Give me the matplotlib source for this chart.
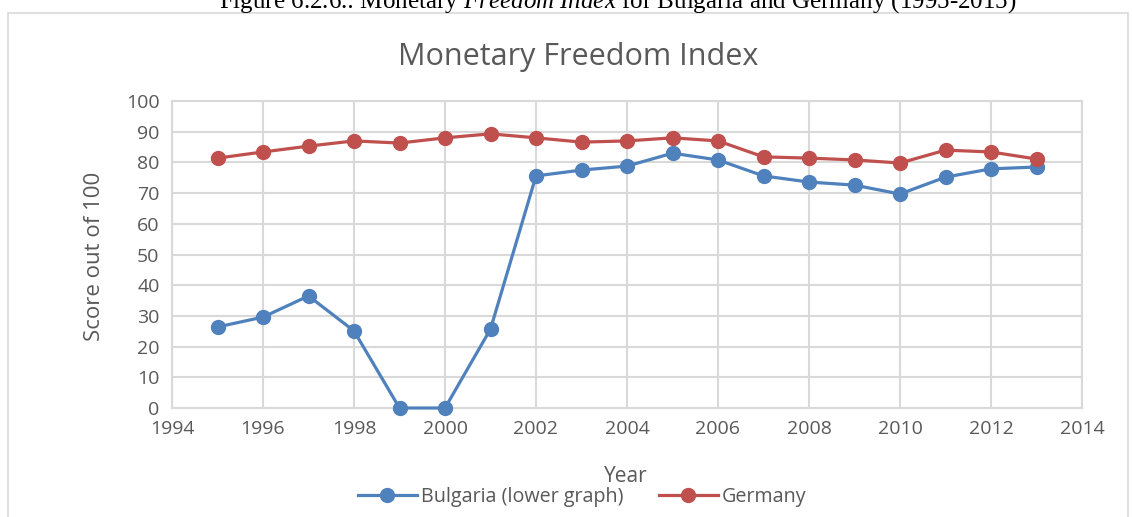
import matplotlib.pyplot as plt
from matplotlib.patches import Rectangle

years = list(range(1995, 2014))
bulgaria = [26.4, 29.6, 36.5, 25.1, 0, 0, 25.7, 75.6, 77.5, 78.8, 83.0,
            80.8, 75.6, 73.6, 72.6, 69.7, 75.2, 77.9, 78.5]
germany = [81.4, 83.4, 85.3, 87.0, 86.3, 88.0, 89.3, 88.0, 86.6, 87.0, 88.0,
           87.0, 81.8, 81.4, 80.8, 79.8, 84.0, 83.4, 81.1]

x_ticks = list(range(1994, 2015, 2))
y_ticks = list(range(0, 101, 10))

txt = '#595959'
grid_c = '#d9d9d9'
plt.rcParams['font.family'] = ['Open Sans', 'DejaVu Sans']
plt.rcParams['mathtext.fontset'] = 'custom'
plt.rcParams['mathtext.rm'] = 'Liberation Serif'
plt.rcParams['mathtext.it'] = 'Liberation Serif:italic'

fig = plt.figure(figsize=(11.32, 5.17), dpi=100)
W, H = 1132, 517

# outer chart frame
fig.patches.append(Rectangle((8 / W, -0.1), (1128 - 8) / W, 1.1 - 13 / H,
                             transform=fig.transFigure, fill=False,
                             edgecolor=grid_c, linewidth=1.2))

# caption, clipped at the top edge as in the source
fig.text(618 / W, 1 - 8 / H,
         'Figure 6.2.6.: Monetary $\\it{Freedom\\ Index}$ for Bulgaria and Germany (1995-2015)',
         ha='center', va='baseline', fontsize=18, family='Liberation Serif', color='black')

ax = fig.add_axes([172 / W, 1 - 408 / H, (1082 - 172) / W, (408 - 101) / H])
ax.plot(years, bulgaria, color='#4F81BD', linewidth=2.3, marker='o', markersize=10,
        label='Bulgaria (lower graph)', clip_on=False, zorder=3)
ax.plot(years, germany, color='#C0504D', linewidth=2.3, marker='o', markersize=10,
        label='Germany', clip_on=False, zorder=3)

ax.set_xlim(1994, 2014)
ax.set_ylim(0, 100)
ax.set_xticks(x_ticks)
ax.set_yticks(y_ticks)
ax.grid(True, color=grid_c, linewidth=1.5)
ax.set_axisbelow(True)
for s in ax.spines.values():
    s.set_color(grid_c)
    s.set_linewidth(1.5)
ax.tick_params(length=0, colors=txt, labelsize=14, pad=9)

fig.text(578 / W, 1 - 57 / H, 'Monetary Freedom Index', ha='center', va='center',
         fontsize=22, color=txt)
fig.text(626 / W, 1 - 476 / H, 'Year', ha='center', va='center', fontsize=15, color=txt)
fig.text(95 / W, 1 - 256 / H, 'Score out of 100', ha='center', va='center',
         rotation=90, fontsize=16, color=txt)

ax.legend(loc='center', bbox_to_anchor=(582 / W, 1 - 497 / H), bbox_transform=fig.transFigure,
          ncol=2, frameon=False, fontsize=14.2, labelcolor=txt, handlelength=3,
          columnspacing=1.8, handletextpad=0.2, borderaxespad=0, borderpad=0)

fig.savefig('out.png', dpi=100)
